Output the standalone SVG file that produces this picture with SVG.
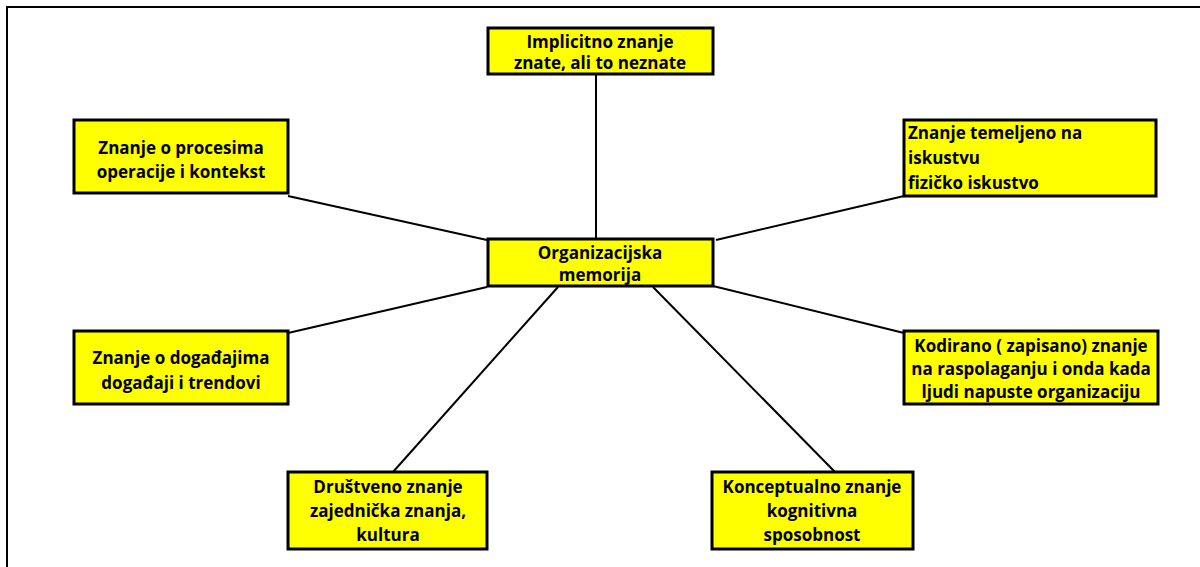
<svg xmlns="http://www.w3.org/2000/svg" width="1200" height="567" viewBox="0 0 1200 567">
<style>
.box{fill:#ffff00;stroke:#000;stroke-width:3}
.t{font-family:"Open Sans","Noto Sans",sans-serif;font-weight:bold;font-size:17px;fill:#000;text-anchor:middle}
.l{text-anchor:start}
.c{stroke:#000;stroke-width:2;fill:none}
</style>
<rect width="1200" height="567" fill="#fff"/>
<path d="M7,567 V7 H1200" fill="none" stroke="#000" stroke-width="2"/>
<g id="connectors">
<line class="c" x1="596" y1="74" x2="596" y2="239"/>
<line class="c" x1="288" y1="196" x2="487" y2="240"/>
<line class="c" x1="716" y1="240" x2="904" y2="196"/>
<line class="c" x1="288" y1="333" x2="487" y2="287"/>
<line class="c" x1="713" y1="286" x2="904" y2="333"/>
<line class="c" x1="393" y1="472" x2="558" y2="287"/>
<line class="c" x1="653" y1="287" x2="835" y2="472"/>
</g>
<g id="implicitno">
<rect class="box" x="488" y="28" width="225" height="46"/>
<text class="t" x="600" y="48">Implicitno znanje</text>
<text class="t" x="600" y="69">znate, ali to neznate</text>
</g>
<g id="procesima">
<rect class="box" x="74" y="120" width="214" height="73"/>
<text class="t" x="181" y="154">Znanje o procesima</text>
<text class="t" x="181" y="178">operacije i kontekst</text>
</g>
<g id="temeljeno">
<rect class="box" x="904" y="120" width="252" height="76"/>
<text class="t l" x="908" y="139">Znanje temeljeno na</text>
<text class="t l" x="908" y="164">iskustvu</text>
<text class="t l" x="908" y="189">fizičko iskustvo</text>
</g>
<g id="organizacijska">
<rect class="box" x="488" y="239" width="225" height="47"/>
<text class="t" x="600" y="259">Organizacijska</text>
<text class="t" x="600" y="281">memorija</text>
</g>
<g id="dogadajima">
<rect class="box" x="74" y="331" width="214" height="73"/>
<text class="t" x="181" y="364">Znanje o događajima</text>
<text class="t" x="181" y="389">događaji i trendovi</text>
</g>
<g id="kodirano">
<rect class="box" x="904" y="331" width="254" height="73"/>
<text class="t" x="1031" y="352">Kodirano ( zapisano) znanje</text>
<text class="t" x="1031" y="375">na raspolaganju i onda kada</text>
<text class="t" x="1031" y="398">ljudi napuste organizaciju</text>
</g>
<g id="drustveno">
<rect class="box" x="288" y="472" width="199" height="77"/>
<text class="t" x="388" y="493">Društveno znanje</text>
<text class="t" x="388" y="517">zajednička znanja,</text>
<text class="t" x="388" y="541">kultura</text>
</g>
<g id="konceptualno">
<rect class="box" x="712" y="472" width="201" height="77"/>
<text class="t" x="812" y="493">Konceptualno znanje</text>
<text class="t" x="812" y="517">kognitivna</text>
<text class="t" x="812" y="541">sposobnost</text>
</g>
</svg>
